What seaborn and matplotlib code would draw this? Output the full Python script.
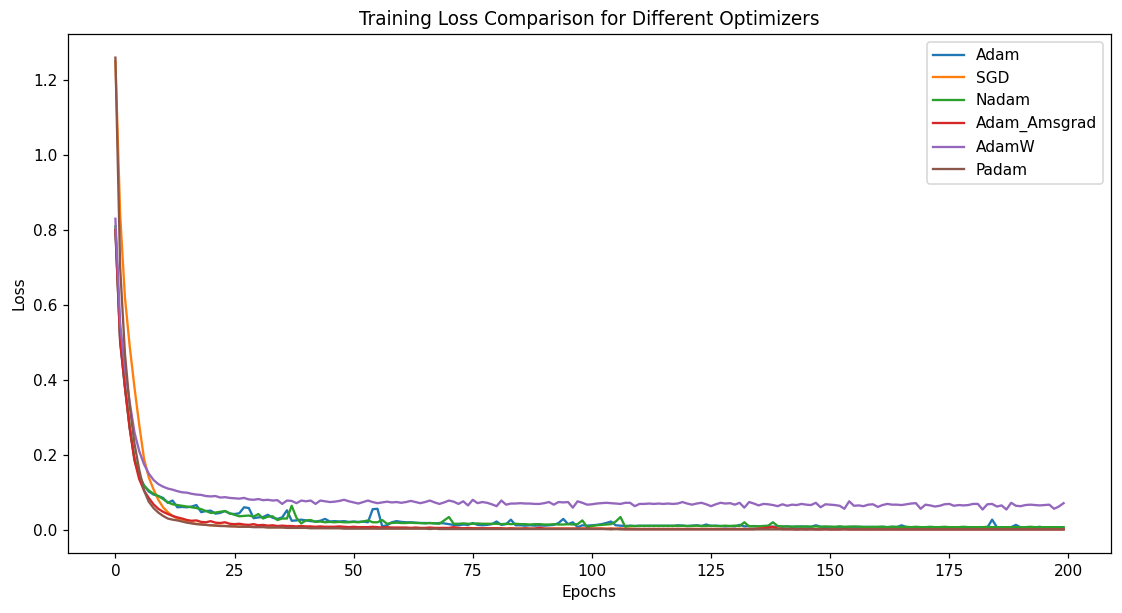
import numpy as np
import matplotlib.pyplot as plt
import seaborn as sns

# training loss per epoch (0..199)
adam = [
    0.800, 0.505, 0.380, 0.272, 0.190, 0.145, 0.118, 0.102, 0.094, 0.090,  # 0
    0.085, 0.072, 0.078, 0.060, 0.061, 0.060, 0.062, 0.066, 0.047, 0.050,  # 10
    0.051, 0.043, 0.045, 0.050, 0.043, 0.042, 0.044, 0.060, 0.058, 0.031,  # 20
    0.033, 0.034, 0.040, 0.032, 0.029, 0.033, 0.052, 0.024, 0.025, 0.027,  # 30
    0.025, 0.023, 0.022, 0.024, 0.029, 0.022, 0.023, 0.022, 0.023, 0.021,  # 40
    0.022, 0.021, 0.022, 0.020, 0.055, 0.056, 0.009, 0.012, 0.020, 0.023,  # 50
    0.021, 0.020, 0.020, 0.019, 0.018, 0.018, 0.018, 0.017, 0.018, 0.017,  # 60
    0.015, 0.013, 0.012, 0.014, 0.013, 0.018, 0.013, 0.012, 0.013, 0.015,  # 70
    0.022, 0.013, 0.015, 0.027, 0.012, 0.012, 0.011, 0.012, 0.011, 0.012,  # 80
    0.011, 0.012, 0.013, 0.018, 0.029, 0.015, 0.020, 0.007, 0.012, 0.011,  # 90
    0.012, 0.013, 0.015, 0.018, 0.022, 0.012, 0.011, 0.010, 0.011, 0.010,  # 100
    0.011, 0.010, 0.011, 0.010, 0.011, 0.010, 0.011, 0.010, 0.012, 0.011,  # 110
    0.010, 0.011, 0.012, 0.010, 0.014, 0.010, 0.011, 0.010, 0.009, 0.010,  # 120
    0.009, 0.013, 0.009, 0.010, 0.009, 0.009, 0.010, 0.009, 0.008, 0.009,  # 130
    0.008, 0.009, 0.008, 0.008, 0.009, 0.008, 0.008, 0.012, 0.008, 0.007,  # 140
    0.008, 0.007, 0.008, 0.007, 0.008, 0.007, 0.008, 0.007, 0.008, 0.007,  # 150
    0.007, 0.008, 0.007, 0.008, 0.007, 0.012, 0.007, 0.006, 0.007, 0.007,  # 160
    0.006, 0.007, 0.006, 0.007, 0.006, 0.007, 0.006, 0.007, 0.006, 0.006,  # 170
    0.007, 0.006, 0.007, 0.006, 0.027, 0.007, 0.006, 0.006, 0.007, 0.013,  # 180
    0.006, 0.006, 0.005, 0.006, 0.008, 0.005, 0.006, 0.005, 0.006, 0.005,  # 190
]

sgd = [
    1.250, 0.840, 0.620, 0.490, 0.380, 0.280, 0.190, 0.140, 0.108, 0.080,  # 0
    0.060, 0.047, 0.037, 0.030, 0.025, 0.021, 0.018, 0.016, 0.015, 0.013,  # 10
    0.012, 0.012, 0.011, 0.010, 0.010, 0.009, 0.009, 0.009, 0.008, 0.008,  # 20
    0.008, 0.008, 0.007, 0.007, 0.007, 0.007, 0.007, 0.006, 0.006, 0.006,  # 30
    0.006, 0.006, 0.006, 0.006, 0.005, 0.005, 0.005, 0.005, 0.005, 0.005,  # 40
    0.005, 0.005, 0.005, 0.005, 0.005, 0.004, 0.004, 0.004, 0.004, 0.004,  # 50
    0.004, 0.004, 0.004, 0.004, 0.004, 0.004, 0.004, 0.004, 0.004, 0.004,  # 60
    0.004, 0.004, 0.004, 0.003, 0.003, 0.003, 0.003, 0.003, 0.003, 0.003,  # 70
    0.003, 0.003, 0.003, 0.003, 0.003, 0.003, 0.003, 0.003, 0.003, 0.003,  # 80
    0.003, 0.003, 0.003, 0.003, 0.003, 0.003, 0.003, 0.003, 0.003, 0.003,  # 90
    0.003, 0.003, 0.003, 0.003, 0.003, 0.003, 0.003, 0.002, 0.003, 0.002,  # 100
    0.002, 0.002, 0.002, 0.002, 0.002, 0.002, 0.002, 0.002, 0.002, 0.002,  # 110
    0.002, 0.002, 0.002, 0.002, 0.002, 0.002, 0.002, 0.002, 0.002, 0.002,  # 120
    0.002, 0.002, 0.002, 0.002, 0.002, 0.003, 0.004, 0.005, 0.006, 0.003,  # 130
    0.002, 0.002, 0.002, 0.002, 0.002, 0.002, 0.002, 0.002, 0.002, 0.002,  # 140
    0.002, 0.002, 0.002, 0.002, 0.002, 0.002, 0.002, 0.002, 0.002, 0.002,  # 150
    0.002, 0.002, 0.002, 0.002, 0.002, 0.002, 0.002, 0.002, 0.002, 0.002,  # 160
    0.002, 0.002, 0.002, 0.002, 0.002, 0.002, 0.002, 0.002, 0.002, 0.002,  # 170
    0.002, 0.002, 0.002, 0.002, 0.002, 0.002, 0.002, 0.002, 0.002, 0.002,  # 180
    0.002, 0.002, 0.002, 0.002, 0.002, 0.002, 0.002, 0.002, 0.002, 0.002,  # 190
]

nadam = [
    0.810, 0.510, 0.385, 0.275, 0.190, 0.145, 0.118, 0.105, 0.096, 0.090,  # 0
    0.082, 0.073, 0.068, 0.066, 0.064, 0.062, 0.060, 0.058, 0.055, 0.050,  # 10
    0.045, 0.046, 0.048, 0.050, 0.044, 0.040, 0.036, 0.037, 0.038, 0.035,  # 20
    0.042, 0.030, 0.035, 0.036, 0.026, 0.030, 0.030, 0.064, 0.032, 0.017,  # 30
    0.025, 0.026, 0.021, 0.022, 0.020, 0.021, 0.020, 0.021, 0.020, 0.020,  # 40
    0.021, 0.020, 0.022, 0.025, 0.020, 0.020, 0.026, 0.016, 0.018, 0.019,  # 50
    0.018, 0.018, 0.019, 0.018, 0.018, 0.017, 0.018, 0.017, 0.016, 0.025,  # 60
    0.034, 0.016, 0.016, 0.017, 0.016, 0.016, 0.017, 0.016, 0.016, 0.016,  # 70
    0.016, 0.015, 0.016, 0.015, 0.016, 0.015, 0.015, 0.014, 0.015, 0.015,  # 80
    0.014, 0.014, 0.015, 0.014, 0.014, 0.015, 0.014, 0.015, 0.025, 0.007,  # 90
    0.010, 0.012, 0.013, 0.014, 0.015, 0.022, 0.034, 0.008, 0.010, 0.010,  # 100
    0.010, 0.011, 0.010, 0.011, 0.010, 0.011, 0.010, 0.011, 0.010, 0.011,  # 110
    0.010, 0.010, 0.011, 0.010, 0.010, 0.011, 0.010, 0.010, 0.011, 0.010,  # 120
    0.011, 0.010, 0.020, 0.009, 0.010, 0.009, 0.010, 0.011, 0.020, 0.010,  # 130
    0.009, 0.009, 0.008, 0.009, 0.008, 0.009, 0.008, 0.009, 0.008, 0.009,  # 140
    0.008, 0.008, 0.009, 0.008, 0.008, 0.009, 0.008, 0.008, 0.007, 0.008,  # 150
    0.008, 0.008, 0.007, 0.008, 0.008, 0.007, 0.008, 0.007, 0.008, 0.007,  # 160
    0.007, 0.008, 0.007, 0.007, 0.008, 0.007, 0.007, 0.007, 0.008, 0.007,  # 170
    0.007, 0.007, 0.007, 0.008, 0.007, 0.007, 0.007, 0.007, 0.007, 0.007,  # 180
    0.007, 0.007, 0.008, 0.007, 0.007, 0.007, 0.007, 0.007, 0.007, 0.007,  # 190
]

adam_amsgrad = [
    0.800, 0.500, 0.380, 0.270, 0.185, 0.135, 0.105, 0.085, 0.068, 0.056,  # 0
    0.048, 0.042, 0.037, 0.033, 0.030, 0.026, 0.024, 0.025, 0.021, 0.020,  # 10
    0.023, 0.019, 0.018, 0.020, 0.016, 0.015, 0.016, 0.014, 0.013, 0.015,  # 20
    0.012, 0.013, 0.011, 0.012, 0.010, 0.011, 0.010, 0.010, 0.009, 0.010,  # 30
    0.009, 0.009, 0.008, 0.009, 0.008, 0.008, 0.008, 0.009, 0.008, 0.007,  # 40
    0.008, 0.007, 0.007, 0.007, 0.008, 0.007, 0.006, 0.007, 0.006, 0.006,  # 50
    0.006, 0.006, 0.005, 0.006, 0.005, 0.005, 0.006, 0.005, 0.005, 0.005,  # 60
    0.005, 0.007, 0.005, 0.004, 0.005, 0.004, 0.004, 0.004, 0.004, 0.004,  # 70
    0.004, 0.004, 0.003, 0.004, 0.003, 0.003, 0.004, 0.003, 0.003, 0.006,  # 80
    0.003, 0.003, 0.003, 0.003, 0.003, 0.003, 0.003, 0.003, 0.003, 0.003,  # 90
    0.003, 0.003, 0.003, 0.002, 0.003, 0.002, 0.003, 0.002, 0.002, 0.002,  # 100
    0.002, 0.002, 0.002, 0.002, 0.002, 0.002, 0.002, 0.002, 0.002, 0.002,  # 110
    0.002, 0.002, 0.002, 0.002, 0.002, 0.002, 0.002, 0.002, 0.002, 0.002,  # 120
    0.002, 0.002, 0.002, 0.002, 0.002, 0.003, 0.004, 0.006, 0.008, 0.003,  # 130
    0.002, 0.002, 0.002, 0.001, 0.002, 0.001, 0.002, 0.001, 0.001, 0.002,  # 140
    0.001, 0.001, 0.001, 0.002, 0.001, 0.001, 0.001, 0.001, 0.001, 0.001,  # 150
    0.001, 0.001, 0.001, 0.001, 0.001, 0.001, 0.001, 0.001, 0.001, 0.001,  # 160
    0.001, 0.001, 0.001, 0.001, 0.001, 0.001, 0.001, 0.001, 0.001, 0.001,  # 170
    0.001, 0.001, 0.001, 0.001, 0.001, 0.001, 0.001, 0.001, 0.001, 0.001,  # 180
    0.001, 0.001, 0.001, 0.001, 0.001, 0.001, 0.001, 0.001, 0.001, 0.001,  # 190
]

adamw = [
    0.830, 0.550, 0.430, 0.340, 0.260, 0.210, 0.175, 0.150, 0.133, 0.122,  # 0
    0.115, 0.110, 0.107, 0.103, 0.100, 0.099, 0.096, 0.094, 0.093, 0.090,  # 10
    0.089, 0.090, 0.086, 0.087, 0.085, 0.084, 0.083, 0.085, 0.081, 0.080,  # 20
    0.082, 0.079, 0.080, 0.078, 0.079, 0.069, 0.078, 0.077, 0.071, 0.078,  # 30
    0.076, 0.078, 0.069, 0.078, 0.076, 0.074, 0.075, 0.077, 0.080, 0.076,  # 40
    0.073, 0.070, 0.074, 0.078, 0.074, 0.071, 0.073, 0.075, 0.073, 0.074,  # 50
    0.072, 0.074, 0.077, 0.074, 0.071, 0.074, 0.078, 0.073, 0.069, 0.073,  # 60
    0.078, 0.075, 0.069, 0.076, 0.065, 0.080, 0.071, 0.074, 0.072, 0.068,  # 70
    0.063, 0.078, 0.067, 0.070, 0.070, 0.071, 0.070, 0.070, 0.069, 0.069,  # 80
    0.071, 0.074, 0.067, 0.074, 0.073, 0.074, 0.059, 0.076, 0.072, 0.067,  # 90
    0.068, 0.070, 0.071, 0.072, 0.071, 0.070, 0.069, 0.072, 0.072, 0.063,  # 100
    0.069, 0.069, 0.070, 0.069, 0.070, 0.069, 0.070, 0.069, 0.070, 0.074,  # 110
    0.070, 0.067, 0.070, 0.072, 0.068, 0.063, 0.068, 0.072, 0.070, 0.071,  # 120
    0.067, 0.072, 0.059, 0.074, 0.070, 0.065, 0.069, 0.068, 0.066, 0.063,  # 130
    0.068, 0.064, 0.067, 0.066, 0.069, 0.067, 0.066, 0.072, 0.060, 0.068,  # 140
    0.067, 0.066, 0.064, 0.056, 0.076, 0.064, 0.065, 0.063, 0.067, 0.068,  # 150
    0.061, 0.066, 0.069, 0.067, 0.067, 0.066, 0.068, 0.070, 0.071, 0.056,  # 160
    0.067, 0.065, 0.062, 0.064, 0.068, 0.069, 0.064, 0.066, 0.065, 0.066,  # 170
    0.069, 0.069, 0.054, 0.068, 0.069, 0.062, 0.065, 0.054, 0.072, 0.064,  # 180
    0.063, 0.066, 0.067, 0.066, 0.065, 0.066, 0.067, 0.056, 0.062, 0.071,  # 190
]

padam = [
    1.260, 0.700, 0.470, 0.330, 0.230, 0.160, 0.105, 0.075, 0.058, 0.046,  # 0
    0.037, 0.030, 0.027, 0.025, 0.022, 0.019, 0.017, 0.015, 0.014, 0.013,  # 10
    0.012, 0.011, 0.010, 0.010, 0.009, 0.009, 0.008, 0.008, 0.008, 0.007,  # 20
    0.007, 0.007, 0.006, 0.006, 0.006, 0.006, 0.005, 0.005, 0.005, 0.005,  # 30
    0.005, 0.004, 0.004, 0.004, 0.004, 0.004, 0.004, 0.004, 0.003, 0.003,  # 40
    0.003, 0.003, 0.003, 0.003, 0.003, 0.003, 0.003, 0.003, 0.003, 0.003,  # 50
    0.003, 0.003, 0.003, 0.003, 0.003, 0.003, 0.002, 0.003, 0.002, 0.002,  # 60
    0.002, 0.002, 0.002, 0.002, 0.002, 0.002, 0.002, 0.002, 0.002, 0.002,  # 70
    0.002, 0.002, 0.002, 0.002, 0.002, 0.002, 0.002, 0.002, 0.002, 0.002,  # 80
    0.002, 0.002, 0.002, 0.002, 0.002, 0.002, 0.002, 0.002, 0.002, 0.002,  # 90
    0.002, 0.002, 0.002, 0.002, 0.001, 0.002, 0.001, 0.001, 0.001, 0.001,  # 100
    0.001, 0.001, 0.001, 0.001, 0.001, 0.001, 0.001, 0.001, 0.001, 0.001,  # 110
    0.001, 0.001, 0.001, 0.001, 0.001, 0.001, 0.001, 0.001, 0.001, 0.001,  # 120
    0.001, 0.001, 0.001, 0.001, 0.001, 0.001, 0.001, 0.001, 0.001, 0.001,  # 130
    0.001, 0.001, 0.001, 0.001, 0.001, 0.001, 0.001, 0.001, 0.001, 0.001,  # 140
    0.001, 0.001, 0.001, 0.001, 0.001, 0.001, 0.001, 0.001, 0.001, 0.001,  # 150
    0.001, 0.001, 0.001, 0.001, 0.001, 0.001, 0.001, 0.001, 0.001, 0.001,  # 160
    0.001, 0.001, 0.001, 0.001, 0.001, 0.001, 0.001, 0.001, 0.001, 0.001,  # 170
    0.001, 0.001, 0.001, 0.001, 0.001, 0.001, 0.001, 0.001, 0.001, 0.001,  # 180
    0.001, 0.001, 0.001, 0.001, 0.001, 0.001, 0.001, 0.001, 0.001, 0.001,  # 190
]

names = ["Adam", "SGD", "Nadam", "Adam_Amsgrad", "AdamW", "Padam"]
series = [adam, sgd, nadam, adam_amsgrad, adamw, padam]
colors = sns.color_palette("tab10", len(names))

dpi = 111
fig, ax = plt.subplots(figsize=(1122 / dpi, 613 / dpi), dpi=dpi)

for name, vals, col in zip(names, series, colors):
    sns.lineplot(x=np.arange(len(vals)), y=vals, label=name, color=col,
                 linewidth=1.5, ax=ax)

ax.set_title("Training Loss Comparison for Different Optimizers")
ax.set_xlabel("Epochs")
ax.set_ylabel("Loss")
ax.legend(loc="upper right")

fig.subplots_adjust(left=0.0606, right=0.9902, bottom=0.0979, top=0.9445)
fig.savefig("out.png", dpi=dpi)
